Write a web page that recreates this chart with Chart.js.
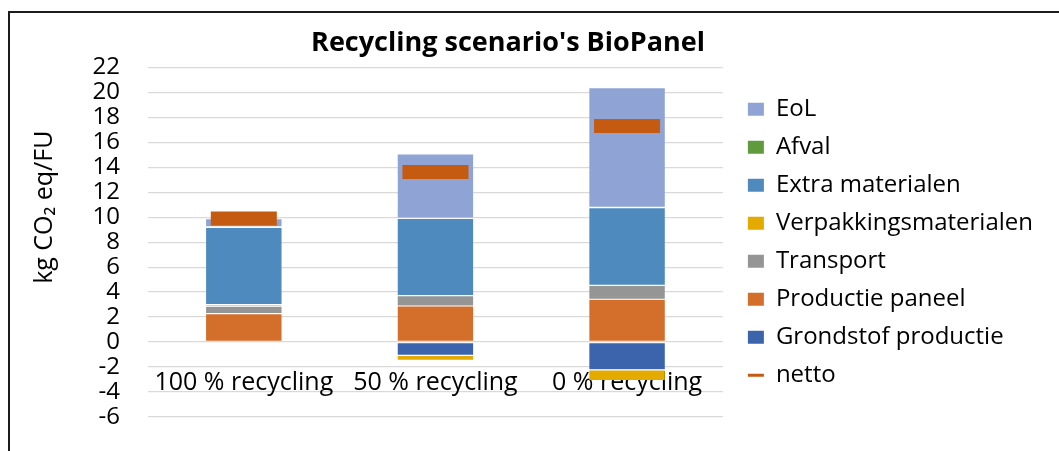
<!DOCTYPE html>
<html>
<head>
<meta charset="utf-8">
<script src="https://cdn.jsdelivr.net/npm/chart.js@4/dist/chart.umd.min.js"></script>
<style>
  html, body { margin: 0; padding: 0; background: #fff; overflow: hidden; }
  #wrap { position: relative; width: 1059px; height: 451px; overflow: hidden; }
  #frame { position: absolute; left: 8px; top: 11px; right: -4px; bottom: -4px;
           border-top: 2px solid #1c1c1c; border-left: 2px solid #1c1c1c; pointer-events: none; }
  #box { position: absolute; left: -40px; top: 0; width: 1099px; height: 464px; }
</style>
</head>
<body>
<div id="wrap">
  <div id="box"><canvas id="myCanvas"></canvas></div>
  <div id="frame"></div>
</div>
<script>
 // scenarios and contributions (kg CO2 eq/FU)
 const categories = ['100 % recycling', '50 % recycling', '0 % recycling'];
 const grondstof = [0, -1.06, -2.22];
 const productiePaneel = [2.28, 2.89, 3.43];
 const transport = [0.59, 0.83, 1.12];
 const verpakking = [0.13, -0.40, -0.86];
 const extraMaterialen = [6.19, 6.19, 6.21];
 const afval = [0.03, 0.03, 0.03];
 const eol = [0.67, 5.14, 9.59];
 const netto = [9.89, 13.62, 17.30];

 const yMin = -6, yMax = 22, yStep = 2;
 const yTitle = 'kg CO₂ eq/FU';

 const font = 'Open Sans';

 function bar(label, data, color){
    return {
        type: 'bar',
        label: label,
        data: data,
        backgroundColor: color,
        borderColor: 'rgba(255,255,255,0.15)',
        borderWidth: 0.6,
        borderSkipped: false,
        stack: 'bars',
        order: 0
    };
 }

 // y axis title, drawn a bit above the middle of the axis
 const axisTitle = {
    id: 'axisTitle',
    afterDraw(chart){
        const ctx = chart.ctx;
        const y = chart.scales.y;
        ctx.save();
        ctx.translate(85, y.getPixelForValue(10.8));
        ctx.rotate(-Math.PI / 2);
        ctx.font = '25px "' + font + '"';
        ctx.fillStyle = '#000';
        ctx.textAlign = 'center';
        ctx.textBaseline = 'middle';
        ctx.fillText(yTitle, 0, 0);
        ctx.restore();
    }
 };

 const data = {
    labels: categories,
    datasets: [
        bar('Grondstof productie', grondstof, '#3B64AD'),
        bar('Productie paneel', productiePaneel, '#D46F2B'),
        bar('Transport', transport, '#959595'),
        bar('Verpakkingsmaterialen', verpakking, '#E4AA00'),
        bar('Extra materialen', extraMaterialen, '#4E8ABE'),
        bar('Afval', afval, '#5F9B3C'),
        bar('EoL', eol, '#8FA3D5'),
        {
            type: 'line',
            label: 'netto',
            data: netto,
            showLine: false,
            stack: 'netto',
            order: -1,
            borderColor: '#C55A11',
            backgroundColor: '#C55A11',
            pointStyle: 'line',
            pointRadius: 33,
            pointHoverRadius: 33,
            pointBorderWidth: 14,
            pointBorderColor: '#C55A11'
        }
    ]
 };

 const config = {
    type: 'bar',
    data: data,
    plugins: [axisTitle],
    options: {
        responsive: true,
        maintainAspectRatio: false,
        animation: false,
        layout: { padding: { left: 13, right: 16, top: 0, bottom: 34.6 } },
        datasets: { bar: { categoryPercentage: 1, barPercentage: 0.4 } },
        scales: {
            x: {
                position: { y: -2 },
                grid: { display: false, drawTicks: false },
                border: { display: false },
                ticks: { color: '#000', font: { family: font, size: 25 }, padding: 1, maxRotation: 0 }
            },
            y: {
                stacked: true,
                min: yMin,
                max: yMax,
                afterFit: s => { s.width = 175; },
                ticks: { stepSize: yStep, autoSkip: false, color: '#000', font: { family: font, size: 24 }, padding: 28 },
                grid: { color: '#D9D9D9', lineWidth: 1.3, drawTicks: false },
                border: { display: false }
            },
            // spacer between plot and legend
            gap: {
                type: 'linear',
                position: 'right',
                display: true,
                grid: { display: false },
                border: { display: false },
                ticks: { display: false },
                afterFit: s => { s.width = 11; }
            }
        },
        plugins: {
            title: {
                display: true,
                text: "Recycling scenario's BioPanel",
                color: '#000',
                font: { family: font, size: 27, weight: 'bold' },
                padding: { top: 27, bottom: 8 }
            },
            tooltip: { enabled: false },
            legend: {
                position: 'right',
                align: 'center',
                fullSize: false,
                maxWidth: 330,
                labels: {
                    color: '#000',
                    font: { family: font, size: 24 },
                    padding: 14,
                    usePointStyle: true,
                    pointStyleWidth: 16,
                    boxHeight: 13,
                    sort: (a, b) => {
                        const ka = a.text === 'netto' ? 100 : -a.datasetIndex;
                        const kb = b.text === 'netto' ? 100 : -b.datasetIndex;
                        return ka - kb;
                    },
                    generateLabels: chart => {
                        const items = Chart.defaults.plugins.legend.labels.generateLabels(chart);
                        items.forEach(it => {
                            if(it.text === 'netto'){
                                it.pointStyle = 'line';
                                it.lineWidth = 3;
                                it.strokeStyle = '#C55A11';
                            } else {
                                it.pointStyle = 'rect';
                                it.lineWidth = 0;
                            }
                        });
                        return items;
                    }
                }
            }
        }
    }
 };

 var myChart = new Chart(document.getElementById('myCanvas'), config);
</script>
</body>
</html>
